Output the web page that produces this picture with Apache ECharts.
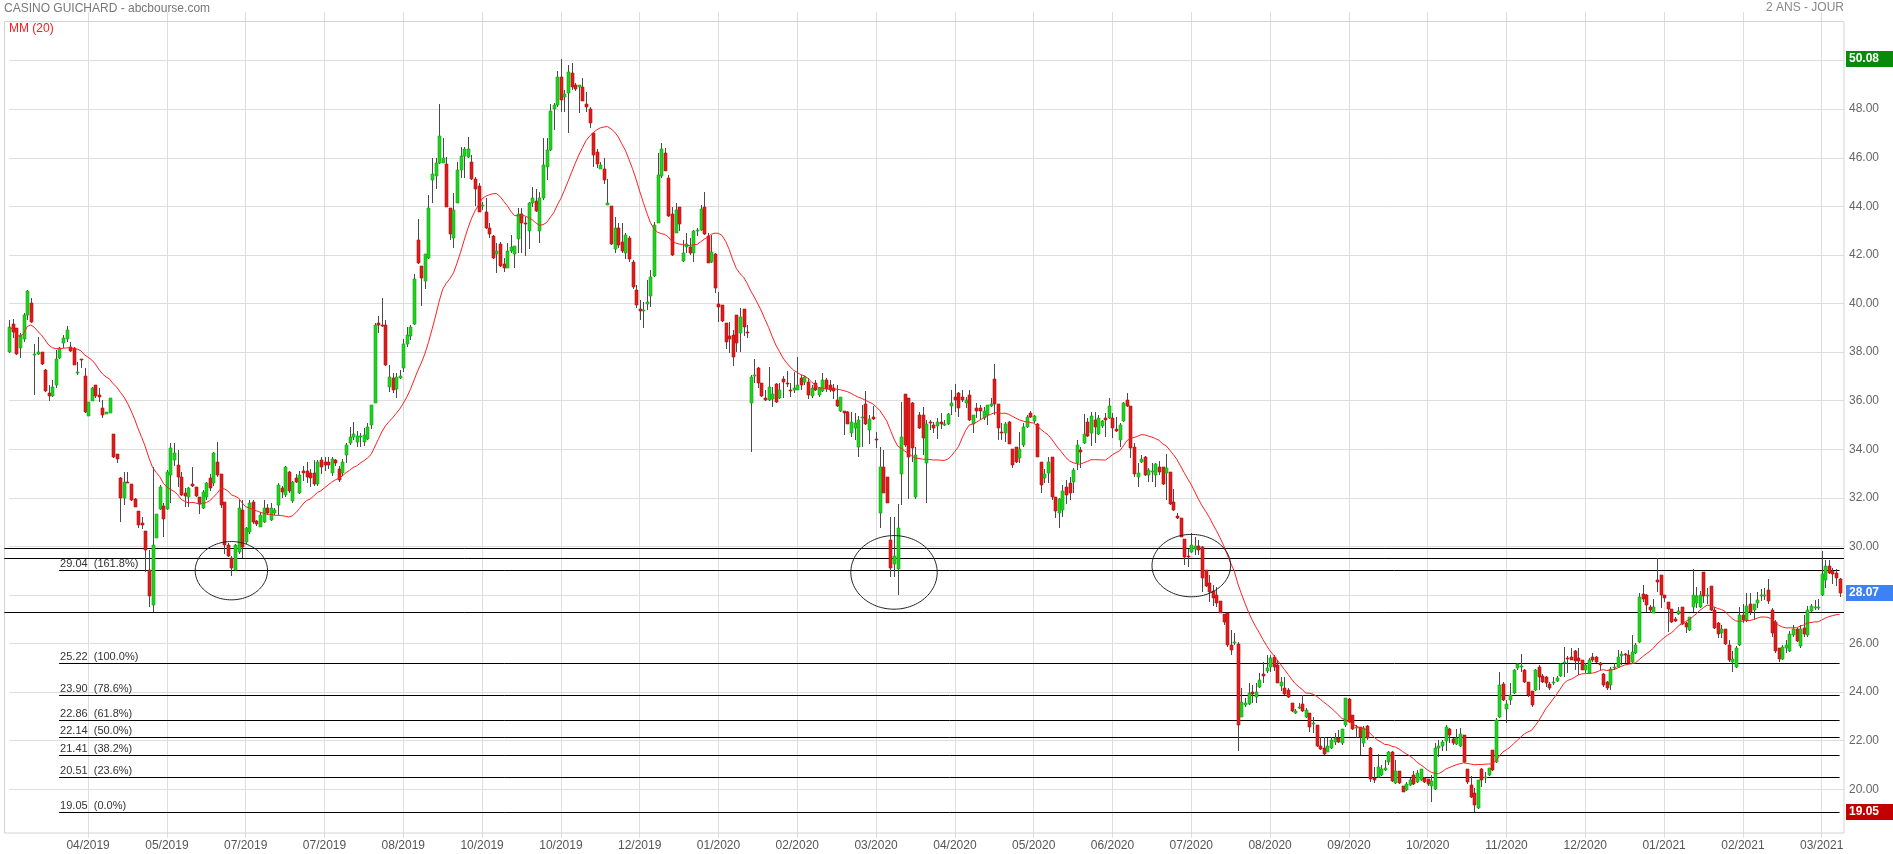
<!DOCTYPE html>
<html><head><meta charset="utf-8">
<script src="https://cdn.jsdelivr.net/npm/echarts@6/dist/echarts.min.js"></script>
<style>html,body{margin:0;padding:0;background:#fff}#c{width:1893px;height:854px}</style>
</head><body><div id="c"></div>
<script>
// ---- DATA ----
// each candle: [open, close, low, high]
const candles = [
/*0*/[37.99,39.02,37.95,39.32],[39.14,38.84,38.60,39.35],[38.98,37.91,37.88,39.00],[38.16,38.70,37.74,38.77],[38.53,39.53,38.43,39.60],[39.53,40.52,39.32,40.55],[40.01,39.25,39.21,40.21],[37.90,37.93,36.25,38.33],[37.91,37.99,37.88,38.64],[37.99,37.50,37.47,38.00],
/*10*/[37.26,36.39,36.34,37.30],[36.30,36.21,36.00,36.65],[36.21,36.55,36.16,36.85],[36.65,37.72,36.52,38.09],[37.74,38.16,37.70,38.22],[38.39,38.57,38.16,38.70],[38.55,38.91,38.43,39.08],[38.22,38.05,38.02,38.43],[38.16,37.47,37.47,38.22],[37.13,37.17,37.06,37.61],
/*20*/[37.70,37.66,37.33,37.72],[37.02,35.52,35.48,37.33],[35.38,35.93,35.38,35.96],[36.00,36.52,35.99,36.58],[36.65,36.21,36.10,36.65],[36.23,36.14,35.96,36.51],[35.71,35.41,35.27,36.03],[35.45,35.52,35.45,35.55],[35.51,36.10,35.48,36.12],[34.63,33.70,33.65,34.63],
/*30*/[33.81,33.61,33.45,33.81],[32.83,32.01,31.02,32.87],[32.01,32.65,31.71,33.08],[32.65,32.60,32.60,33.08],[32.56,31.91,31.87,32.56],[31.95,31.64,31.61,31.98],[31.46,30.88,30.75,31.46],[30.95,30.90,30.70,31.20],[30.64,29.85,28.96,30.64],[29.03,27.96,27.52,29.85],
/*40*/[27.59,30.06,27.31,33.28],[30.36,31.32,30.33,31.32],[31.53,32.43,31.50,32.53],[31.66,31.12,30.40,31.77],[31.53,33.08,31.50,33.15],[32.94,34.07,31.77,34.24],[33.56,33.86,33.30,34.24],[33.35,32.87,32.46,33.97],[32.84,32.12,32.09,33.05],[32.21,32.09,31.64,32.39],
/*50*/[32.05,32.39,31.64,32.46],[32.58,32.50,32.46,33.28],[32.43,32.09,32.05,32.43],[32.02,31.73,31.32,32.05],[31.57,32.23,31.54,32.32],[32.05,32.60,31.90,32.65],[32.80,32.42,32.30,33.00],[32.60,33.83,32.50,33.90],[33.49,32.94,32.87,34.31],[32.98,31.70,31.57,33.00],
/*60*/[31.84,30.06,29.70,31.84],[30.06,29.62,29.58,30.15],[29.54,29.10,28.78,29.60],[29.03,30.06,29.00,30.10],[29.78,31.59,29.70,31.91],[31.50,29.99,29.54,31.91],[30.20,30.74,30.10,30.80],[30.61,31.77,30.50,31.90],[31.84,31.02,30.91,31.91],[31.05,30.91,30.85,31.10],
/*70*/[30.81,31.29,30.80,31.40],[31.02,31.57,30.95,31.90],[31.59,31.36,31.30,31.75],[31.09,31.57,31.05,31.80],[31.36,31.50,31.30,31.60],[31.70,32.53,31.30,32.60],[32.39,32.25,32.00,32.50],[32.12,33.28,32.05,33.30],[33.08,32.28,32.20,33.10],[31.87,32.64,31.80,32.70],
/*80*/[32.80,32.67,32.60,33.00],[32.19,32.94,32.15,33.10],[33.10,33.01,32.70,33.30],[33.10,32.87,32.60,33.48],[33.01,32.80,32.45,33.20],[33.01,32.57,32.50,33.55],[32.57,33.49,32.50,33.55],[33.56,33.28,33.00,33.70],[33.49,33.35,33.10,33.70],[33.49,33.35,33.20,33.70],
/*90*/[33.01,33.60,32.90,33.70],[33.56,33.42,33.30,33.60],[33.19,32.73,32.65,33.30],[33.01,33.46,32.90,33.60],[33.76,34.18,33.45,34.24],[34.27,34.49,34.18,34.93],[34.49,34.61,34.38,35.13],[34.31,34.56,34.08,34.76],[34.49,34.56,34.10,34.68],[34.31,34.59,34.13,34.86],
/*100*/[34.41,34.93,34.38,35.10],[35.00,35.82,34.82,35.82],[35.92,39.11,35.90,39.20],[39.21,39.11,38.77,39.50],[39.12,39.06,39.04,40.21],[39.11,37.47,37.43,39.32],[36.58,36.99,36.37,37.47],[36.92,36.44,36.33,37.12],[36.47,36.96,36.10,37.12],[36.93,37.00,36.90,37.27],
/*110*/[37.33,38.33,37.16,38.52],[38.33,38.70,38.22,39.02],[38.68,39.02,38.50,39.13],[39.14,40.99,39.10,41.20],[42.61,41.65,41.62,43.48],[41.56,41.04,39.90,41.56],[40.93,42.03,40.58,42.03],[41.86,43.92,41.82,44.47],[45.08,45.33,44.15,45.99],[45.25,45.77,44.70,45.99],
/*120*/[45.77,46.90,45.74,48.21],[45.80,46.00,45.77,46.80],[45.74,43.96,43.96,46.02],[43.92,42.85,42.61,43.92],[42.68,43.85,42.27,44.56],[44.15,45.50,44.15,45.84],[45.50,46.07,45.15,46.46],[46.08,46.36,45.15,46.43],[46.02,46.36,45.98,46.84],[45.84,45.11,45.08,46.11],
/*130*/[45.11,44.70,44.03,45.19],[44.85,43.78,43.78,44.95],[44.00,44.05,43.85,44.19],[43.78,43.10,43.05,44.33],[43.10,42.85,42.68,43.30],[42.79,41.89,41.82,42.82],[42.03,42.16,41.24,42.48],[42.45,41.54,41.52,42.55],[41.63,41.45,41.28,41.86],[41.48,42.16,41.45,42.50],
/*140*/[42.16,42.34,42.07,42.82],[42.03,42.38,41.48,42.38],[42.64,43.68,42.06,43.92],[43.68,43.30,42.06,43.92],[43.33,43.27,41.96,43.57],[43.00,44.12,42.23,44.17],[44.12,44.33,43.99,44.81],[44.22,43.82,43.78,44.71],[43.00,44.33,42.48,44.60],[44.33,45.70,44.26,46.80],
/*150*/[45.60,46.32,45.08,46.80],[46.32,47.92,46.28,48.20],[47.99,48.17,47.14,48.24],[48.17,49.31,48.10,49.57],[49.31,48.38,47.90,50.08],[48.51,48.62,47.90,48.79],[48.65,49.54,47.00,49.82],[49.50,48.93,48.79,49.92],[48.99,48.82,48.76,49.06],[48.90,48.99,47.83,49.00],
/*160*/[48.90,48.35,48.35,49.27],[48.21,48.10,47.90,48.72],[47.99,47.42,47.21,48.10],[47.03,46.11,45.63,47.07],[46.25,45.74,45.56,46.35],[45.52,45.70,45.52,45.81],[45.52,45.08,44.92,45.98],[44.06,44.13,44.06,45.11],[44.00,42.44,42.41,44.00],[42.23,43.09,42.09,43.57],
/*170*/[43.09,42.41,42.27,43.30],[42.55,42.16,42.06,43.33],[42.09,42.82,41.82,42.89],[42.68,41.82,41.72,42.78],[41.72,40.67,40.58,41.79],[40.56,39.94,39.80,40.76],[39.76,39.70,39.32,40.14],[39.73,39.75,38.98,40.08],[40.00,40.05,39.73,40.97],[40.31,41.08,39.87,41.38],
/*180*/[41.13,43.23,41.10,43.37],[43.33,45.29,43.33,46.18],[45.25,46.35,45.15,46.59],[46.18,45.47,45.47,46.39],[45.15,43.60,43.57,45.29],[43.68,41.98,41.95,43.99],[42.89,43.85,42.89,44.12],[43.96,43.27,43.00,43.99],[41.76,42.09,41.72,42.61],[42.34,42.44,42.07,42.89],
/*190*/[42.34,42.09,42.00,42.68],[42.06,42.98,41.72,43.03],[42.98,43.03,42.78,43.10],[43.03,43.88,42.98,44.06],[43.96,42.85,42.82,44.58],[42.78,41.68,41.65,42.89],[41.72,42.13,41.65,42.82],[42.04,40.62,40.44,42.07],[39.98,39.84,39.25,40.49],[39.94,39.30,39.25,39.94],
/*200*/[39.21,38.43,38.11,39.21],[38.66,38.52,37.98,39.25],[38.70,37.81,37.43,38.91],[39.53,38.39,38.02,39.53],[38.80,39.46,38.02,39.80],[39.76,39.05,38.66,39.76],[38.83,38.77,38.57,39.12],[35.89,36.99,33.90,37.06],[37.00,37.06,36.71,37.70],[37.33,36.74,36.51,37.40],
/*210*/[36.71,36.21,36.16,36.71],[36.10,36.03,36.00,36.44],[36.03,36.55,36.00,37.37],[36.07,36.27,35.75,36.55],[36.67,35.93,35.89,36.71],[36.10,36.44,36.05,36.71],[36.88,36.75,36.10,37.02],[36.74,36.67,36.58,37.23],[36.44,36.40,36.16,36.71],[36.44,36.54,36.33,37.17],
/*220*/[36.44,36.64,36.44,37.78],[36.92,36.64,36.44,37.05],[36.75,36.96,36.64,37.03],[36.75,36.23,36.05,36.92],[36.21,36.51,36.10,36.64],[36.71,36.44,36.41,36.85],[36.23,36.51,36.16,36.58],[36.41,36.85,36.37,37.13],[36.85,36.47,36.37,36.92],[36.64,36.44,36.37,36.85],
/*230*/[36.51,36.41,36.05,36.67],[36.03,35.78,35.75,36.64],[35.59,36.14,35.55,36.14],[35.57,35.50,34.59,35.57],[35.55,35.03,35.03,35.59],[34.66,35.14,34.52,35.55],[34.86,35.06,34.38,35.50],[34.11,35.20,33.69,35.37],[35.27,35.34,34.11,35.82],[35.85,35.02,34.99,36.41],
/*240*/[34.79,35.23,34.22,35.41],[35.34,35.26,35.20,35.78],[34.43,34.41,34.04,34.72],[31.36,33.28,30.77,34.11],[33.25,32.21,32.18,33.97],[32.84,31.80,31.77,32.84],[30.26,29.10,28.75,31.20],[29.26,29.62,28.75,31.20],[29.05,30.74,27.99,31.74],[32.98,34.52,31.70,35.96],
/*250*/[36.26,34.17,34.11,36.26],[36.10,33.69,31.94,36.10],[35.89,34.04,33.49,35.96],[32.02,33.76,31.94,34.11],[35.41,34.86,34.83,35.55],[35.41,34.45,33.76,35.75],[33.42,35.04,31.80,35.20],[35.13,35.07,34.79,35.20],[34.99,34.86,34.65,35.13],[34.97,35.11,34.41,35.27],
/*260*/[35.13,35.02,34.82,35.48],[35.04,35.04,34.95,35.20],[35.02,35.45,34.99,35.48],[35.78,35.89,35.41,36.44],[36.16,36.03,35.55,36.69],[36.30,35.68,35.31,36.37],[36.16,36.03,35.96,36.44],[35.89,36.03,35.68,36.16],[36.23,35.20,35.17,36.44],[35.04,35.41,34.65,35.41],
/*270*/[35.68,35.57,35.27,35.89],[35.68,35.57,35.20,35.82],[35.27,35.57,35.20,35.72],[35.41,35.82,35.00,35.82],[35.78,35.86,35.75,36.10],[36.89,35.86,35.41,37.51],[35.86,34.89,34.38,35.86],[34.70,34.65,34.38,35.07],[34.68,35.04,34.31,35.13],[35.13,34.22,34.22,35.17],
/*280*/[34.00,33.35,33.24,34.00],[34.11,33.49,33.42,34.11],[33.62,33.99,33.45,34.72],[34.17,34.93,34.11,35.07],[34.90,35.31,34.86,35.41],[35.50,35.31,35.27,35.57],[35.17,35.37,35.07,35.41],[35.02,33.69,33.67,35.09],[33.49,32.53,32.18,33.49],[32.80,32.98,32.62,33.17],
/*290*/[33.01,33.49,32.62,33.69],[33.67,32.02,31.91,33.69],[32.05,31.47,31.15,32.05],[31.39,31.94,30.77,31.98],[31.50,32.29,31.22,32.53],[32.46,32.12,31.74,32.73],[32.60,32.21,31.91,32.87],[32.66,33.14,32.18,33.21],[33.45,34.17,33.14,34.38],[33.97,33.87,33.21,34.11],
/*300*/[34.24,34.63,34.22,35.45],[35.13,34.55,34.52,35.27],[34.65,35.37,34.14,35.55],[35.20,34.93,34.24,35.55],[34.63,35.27,34.58,35.41],[34.96,35.17,34.86,35.20],[35.27,35.20,34.49,35.48],[35.27,35.78,35.23,36.10],[35.27,34.89,34.45,35.51],[34.82,34.75,34.72,35.31],
/*310*/[34.38,34.99,34.11,35.09],[35.17,35.89,35.13,35.96],[36.03,35.78,35.75,36.33],[35.78,34.04,33.63,35.78],[34.11,32.98,32.87,34.24],[32.84,33.03,32.46,33.42],[33.49,33.59,33.42,33.76],[33.67,32.94,32.90,33.72],[32.94,33.14,32.66,33.21],[33.07,33.11,32.66,33.42],
/*320*/[32.94,33.39,32.43,33.45],[33.28,33.08,32.94,33.53],[33.28,32.56,32.53,33.28],[33.01,33.21,31.91,33.80],[33.05,31.74,31.70,33.08],[31.84,31.50,31.47,32.35],[31.25,31.15,31.13,31.36],[31.15,30.40,30.37,31.15],[30.29,29.55,29.23,30.29],[29.60,29.55,29.16,29.90],
/*330*/[29.78,30.06,29.71,30.54],[29.90,30.00,29.65,30.40],[30.02,29.85,29.65,30.26],[29.99,28.69,28.14,30.02],[29.03,28.38,28.34,29.03],[28.48,28.14,27.72,28.82],[28.18,27.86,27.55,28.41],[28.00,27.66,27.49,28.34],[27.77,27.27,27.24,27.77],[27.22,26.90,26.76,27.22],
/*340*/[27.24,25.94,25.87,27.24],[25.94,25.73,25.53,26.56],[26.05,26.05,25.94,26.42],[25.98,22.65,21.59,26.08],[22.99,23.61,22.96,24.16],[23.47,23.54,23.40,23.75],[23.50,23.95,23.47,24.39],[24.00,23.93,23.54,24.29],[23.81,24.02,23.57,24.39],[24.20,24.52,24.16,24.77],
/*350*/[24.75,24.68,24.36,25.25],[24.88,25.01,24.77,25.53],[25.02,25.39,24.84,25.53],[25.46,25.05,24.87,25.53],[25.12,24.36,24.36,25.32],[24.27,24.43,24.06,24.64],[24.16,23.92,23.88,24.64],[24.09,23.79,23.75,24.16],[23.54,23.24,23.20,23.57],[23.13,23.22,23.09,23.29],
/*360*/[23.40,23.40,23.29,23.54],[23.50,23.24,23.20,23.88],[22.99,23.27,22.92,23.33],[23.13,22.55,22.37,23.15],[22.67,22.74,22.30,22.99],[22.65,21.78,21.75,22.65],[21.78,21.65,21.62,22.17],[21.69,21.45,21.41,22.17],[21.55,21.78,21.52,22.13],[21.69,22.03,21.65,22.17],
/*370*/[21.96,22.13,21.82,22.30],[22.10,21.96,21.89,22.44],[21.89,22.47,21.82,22.47],[22.65,23.74,22.58,23.74],[23.70,22.78,22.72,23.74],[23.06,22.47,22.44,23.06],[22.51,22.58,22.10,22.65],[22.55,22.17,21.41,22.55],[21.90,22.51,21.76,22.60],[22.61,22.10,22.03,22.65],
/*380*/[21.69,20.41,20.31,21.73],[20.45,20.38,20.27,20.93],[20.49,20.90,20.45,21.44],[20.59,20.82,20.55,21.00],[20.79,20.86,20.77,21.21],[21.14,21.52,21.00,21.59],[21.55,20.36,20.31,21.59],[20.27,20.75,20.22,21.21],[20.75,20.27,20.22,20.75],[20.14,19.90,19.88,20.14],
/*390*/[19.97,20.22,19.94,20.31],[20.18,20.38,20.14,20.45],[20.59,20.22,20.18,20.77],[20.31,20.66,20.27,20.79],[20.38,20.82,20.36,20.82],[20.45,20.31,20.25,20.49],[20.41,20.22,20.14,20.41],[20.15,20.36,19.49,20.59],[20.00,21.69,19.97,21.92],[21.69,21.78,21.34,22.03],
/*400*/[21.78,21.96,21.59,22.03],[22.00,22.55,21.59,22.65],[22.47,22.24,21.89,22.51],[22.06,21.92,21.82,22.10],[21.86,22.13,21.82,22.47],[21.78,22.28,21.76,22.51],[22.24,21.14,21.10,22.24],[20.82,20.31,20.22,20.82],[20.18,19.67,19.63,20.55],[19.83,19.35,19.05,20.04],
/*410*/[19.22,20.38,19.18,20.38],[20.82,20.38,20.11,20.86],[20.45,20.52,20.25,20.73],[20.59,20.86,20.55,20.86],[21.62,20.79,20.77,21.62],[21.14,22.85,21.07,22.92],[22.96,24.29,22.92,24.84],[24.33,23.68,23.65,24.43],[23.31,23.51,22.74,23.68],[23.68,23.88,23.47,24.36],
/*420*/[23.95,24.91,23.91,24.94],[24.98,25.16,24.91,25.19],[25.02,25.08,24.84,25.56],[24.91,24.43,24.39,24.94],[24.40,23.88,23.81,24.43],[24.06,23.47,23.40,24.06],[24.09,24.91,24.05,24.94],[25.02,24.64,24.09,25.12],[24.68,24.43,24.36,24.75],[24.64,24.36,24.22,24.68],
/*430*/[24.34,24.16,24.10,24.40],[24.36,24.43,24.30,24.62],[24.47,24.60,24.40,24.68],[24.68,25.14,24.64,25.19],[25.19,25.26,24.64,25.87],[25.42,25.36,24.77,25.49],[25.43,25.32,25.32,25.80],[25.69,25.30,24.91,25.73],[25.42,25.30,24.71,25.80],[25.32,24.91,24.91,25.32],
/*440*/[24.90,25.10,24.80,25.20],[24.80,25.32,24.77,25.39],[25.46,25.32,25.26,25.60],[25.46,25.26,25.20,25.50],[25.21,25.12,24.90,25.25],[24.75,24.29,24.22,24.77],[24.43,24.16,24.10,24.45],[24.29,24.94,24.09,25.05],[25.05,25.05,24.91,25.19],[25.05,25.46,25.05,25.73],
/*450*/[25.49,25.57,25.12,25.71],[25.55,25.53,25.19,25.63],[25.53,25.21,25.19,25.73],[25.23,25.67,25.19,26.35],[25.63,25.94,25.57,26.01],[26.05,27.93,26.01,28.07],[28.04,27.82,27.72,28.41],[28.00,27.59,27.31,28.04],[27.49,27.38,27.24,27.59],[27.27,27.49,27.24,27.82],
/*460*/[28.62,28.55,28.14,29.51],[28.82,28.00,27.45,28.82],[28.00,27.86,27.72,28.00],[27.72,27.42,26.49,27.72],[27.42,26.90,26.83,27.42],[27.00,26.94,26.90,27.10],[27.21,27.34,27.18,27.52],[27.49,26.81,26.76,27.49],[26.83,26.67,26.42,26.90],[26.56,27.08,26.53,27.08],
/*470*/[27.52,28.00,27.31,29.06],[27.68,27.96,27.45,28.31],[27.49,28.00,27.45,28.18],[28.93,27.97,27.66,28.96],[27.94,28.00,27.62,28.30],[28.37,27.40,27.33,28.37],[27.40,26.66,26.61,27.51],[26.84,26.39,26.21,26.88],[26.43,26.61,26.21,26.77],[26.61,25.98,25.94,26.61],
/*480*/[25.94,25.31,25.26,26.16],[25.26,25.37,24.81,25.71],[25.04,25.82,24.99,25.89],[25.94,27.18,25.89,27.51],[27.18,26.95,26.84,27.62],[26.95,27.56,26.88,28.07],[27.62,27.29,27.17,28.07],[27.40,27.62,26.95,27.62],[27.69,27.78,27.47,28.14],[27.94,28.00,27.74,28.23],
/*490*/[27.94,28.00,27.78,28.30],[28.19,27.74,27.62,28.64],[27.40,26.43,26.27,27.47],[26.88,25.71,25.60,26.95],[25.82,25.37,25.26,25.82],[25.37,25.87,25.31,25.94],[25.82,25.94,25.60,26.16],[25.71,26.39,25.67,26.50],[26.34,26.61,26.27,26.77],[26.61,26.12,26.05,26.66],
/*500*/[25.89,26.61,25.82,26.77],[26.66,26.39,26.27,27.18],[26.34,27.40,26.27,27.56],[27.33,27.56,27.29,27.62],[27.47,27.51,27.40,27.78],[27.47,27.51,27.40,27.82],[28.01,28.86,27.96,29.81],[28.60,29.20,28.30,29.43],[29.20,28.91,28.86,29.43],[28.97,28.86,28.46,29.13],
/*510*/[28.91,28.68,28.37,29.09],[28.64,28.07,27.92,28.68]
];
// MM(20) values for the first 19 sessions (earlier history not shown)
const maHead = [39.02,38.94,38.70,38.64,38.77,39.05,39.12,39.02,38.84,38.70,38.50,38.29,38.18,38.14,38.14,38.16,38.17,38.18,38.14];
const tickLabels = ['04/2019','05/2019','07/2019','07/2019','08/2019','10/2019','10/2019','12/2019','01/2020','02/2020','03/2020','04/2020','05/2020','06/2020','07/2020','08/2020','09/2020','10/2020','11/2020','12/2020','01/2021','02/2021','03/2021'];
const fibLevels = [29.04, 25.22, 23.90, 22.86, 22.14, 21.41, 20.51, 19.05];
const fibLabels = ['29.04  (161.8%)','25.22  (100.0%)','23.90  (78.6%)','22.86  (61.8%)','22.14  (50.0%)','21.41  (38.2%)','20.51  (23.6%)','19.05  (0.0%)'];
const userLines = [29.95, 29.51, 27.29];
// circled zones: [candle index, price, half-width in candles, half-height in price]
const circles = [[62, 29.00, 10.1, 1.20], [247, 28.93, 12.06, 1.515], [330, 29.21, 10.97, 1.284]];
const priceTags = [50.08, 28.07, 19.05];   // highest, last, lowest
const titleText = 'CASINO GUICHARD - abcbourse.com';
const periodText = '2 ANS - JOUR';
const maText = 'MM (20)';

// ---- CHART ----
const FONT = '"Liberation Sans", Arial, Helvetica, sans-serif';
const candlesPerTick = 22;
const N = candles.length;
const closes = candles.map(d => d[1]);
const maData = closes.map((c, i) => {
  if (i < maHead.length) return [i, maHead[i]];
  let s = 0; for (let k = i - 19; k <= i; k++) s += closes[k];
  return [i, s / 20];
});
const candleData = candles.map((d, i) => [i, d[0], d[1], d[2], d[3]]);
const tagColors = ['#0a8a0a', '#3d82f5', '#c20000'];

const chart = echarts.init(document.getElementById('c'), null, {renderer: 'canvas'});
const GRID = {left: 9.3, right: 49, top: 12.02, bottom: 16.12};
const xMax = (1893 - GRID.left - GRID.right) / (78.8 / candlesPerTick);

chart.setOption({
  animation: false,
  backgroundColor: '#fff',
  textStyle: {fontFamily: FONT},
  grid: Object.assign({containLabel: false, outerBoundsMode: 'none'}, GRID),
  xAxis: {
    type: 'value', min: 0, max: xMax, interval: candlesPerTick,
    axisLine: {show: false}, axisTick: {show: false},
    axisLabel: {
      color: '#555', fontSize: 12, margin: 2, showMinLabel: false, showMaxLabel: false,
      formatter: v => { const k = Math.round(v / candlesPerTick) - 1; return tickLabels[k] || ''; }
    },
    splitLine: {show: true, showMinLine: false, showMaxLine: false, lineStyle: {color: '#dedede', width: 1}}
  },
  yAxis: {
    type: 'value', position: 'right', min: 18, max: 52, interval: 2, scale: true,
    axisLine: {show: false}, axisTick: {show: false},
    axisLabel: {
      color: '#666', fontSize: 12, margin: 5,
      formatter: v => (v <= 18 || v >= 51 || v === 28) ? '' : v.toFixed(2)
    },
    splitLine: {show: true, showMinLine: false, showMaxLine: false, lineStyle: {color: '#dedede', width: 1}}
  },
  graphic: [
    {type: 'rect', z: 1, silent: true, shape: {x: 4.5, y: 21.5, width: 1839.5, height: 811.5}, style: {fill: 'none', stroke: '#d4d4d4', lineWidth: 1}},
    {type: 'text', z: 10, x: 4, y: 9, style: {text: titleText, fill: '#777', fontSize: 12, fontFamily: FONT, verticalAlign: 'middle'}},
    {type: 'text', z: 10, x: 1844, y: 8, style: {text: periodText, fill: '#888', fontSize: 12, fontFamily: FONT, align: 'right', verticalAlign: 'middle'}},
    {type: 'text', z: 10, x: 9, y: 29, style: {text: maText, fill: '#ff1a1a', fontSize: 12, fontFamily: FONT, verticalAlign: 'middle'}}
  ],
  series: [
    { // user drawn horizontal lines
      type: 'custom', z: 2, clip: false, silent: true,
      data: userLines.map(v => [0, v]),
      encode: {x: 0, y: 1},
      renderItem: (params, api) => {
        const y = Math.round(api.coord([0, api.value(1)])[1]) + 0.5;
        const cs = params.coordSys;
        return {type: 'line', shape: {x1: cs.x - 5, y1: y, x2: cs.x + cs.width, y2: y}, style: {stroke: '#000', lineWidth: 1}};
      }
    },
    { // fibonacci retracement lines + labels
      type: 'custom', z: 2, clip: false, silent: true,
      data: fibLevels.map(v => [0, v]),
      encode: {x: 0, y: 1},
      renderItem: (params, api) => {
        const v = api.value(1);
        const y = Math.round(api.coord([0, v])[1]) + 0.5;
        const x1 = api.coord([13.9, v])[0], x2 = api.coord([N - 1, v])[0];
        return {type: 'group', children: [
          {type: 'line', shape: {x1: x1, y1: y, x2: x2, y2: y}, style: {stroke: '#000', lineWidth: 1}},
          {type: 'text', x: x1 + 1, y: y - 1, style: {text: fibLabels[params.dataIndex], fill: '#333', fontSize: 11, fontFamily: FONT, verticalAlign: 'bottom'}}
        ]};
      }
    },
    { // candles
      type: 'custom', z: 3, clip: false, silent: true,
      data: candleData,
      encode: {x: 0, y: [1, 2, 3, 4]},
      renderItem: (params, api) => {
        const i = api.value(0), o = api.value(1), c = api.value(2), l = api.value(3), h = api.value(4);
        const pO = api.coord([i, o]), pC = api.coord([i, c]), pL = api.coord([i, l]), pH = api.coord([i, h]);
        const xc = Math.round(pO[0]);
        const up = c >= o;
        const top = Math.round(Math.min(pO[1], pC[1])), bot = Math.round(Math.max(pO[1], pC[1]));
        return {type: 'group', children: [
          {type: 'line', shape: {x1: xc + 0.5, y1: Math.round(pH[1]), x2: xc + 0.5, y2: Math.round(pL[1])}, style: {stroke: '#4a4a4a', lineWidth: 1}},
          {type: 'rect', shape: {x: xc - 1, y: top, width: 3, height: Math.max(1, bot - top)},
           style: {fill: up ? '#1fd21f' : '#e01b1b', stroke: up ? '#13a813' : '#b51212', lineWidth: 0.6}}
        ]};
      }
    },
    { // moving average 20
      type: 'line', z: 4, data: maData, showSymbol: false, symbol: 'none', silent: true,
      lineStyle: {color: '#ff1f1f', width: 1}
    },
    { // circled zones
      type: 'custom', z: 5, clip: false, silent: true,
      data: circles.map(c => [c[0], c[1]]),
      encode: {x: 0, y: 1},
      renderItem: (params, api) => {
        const c = circles[params.dataIndex];
        const p = api.coord([c[0], c[1]]);
        const e = api.coord([c[0] + c[2], c[1] + c[3]]);
        const rx = e[0] - p[0], ry = p[1] - e[1];
        const pts = [];
        for (let k = 0; k < 120; k++) { const a = k / 120 * Math.PI * 2; pts.push([p[0] + rx * Math.cos(a), p[1] + ry * Math.sin(a)]); }
        return {type: 'polygon', shape: {points: pts}, style: {fill: 'none', stroke: '#222', lineWidth: 1}};
      }
    },
    { // price tags on the right axis
      type: 'custom', z: 6, clip: false, silent: true,
      data: priceTags.map(v => [0, v]),
      encode: {x: 0, y: 1},
      renderItem: (params, api) => {
        const v = api.value(1);
        const y = api.coord([0, v])[1];
        const cs = params.coordSys;
        const x = cs.x + cs.width + 2;
        return {type: 'group', children: [
          {type: 'rect', shape: {x: x, y: Math.round(y) - 8, width: 48, height: 16}, style: {fill: tagColors[params.dataIndex]}},
          {type: 'text', x: x + 3, y: Math.round(y), style: {text: v.toFixed(2), fill: '#fff', fontSize: 12, fontWeight: 'bold', fontFamily: FONT, verticalAlign: 'middle'}}
        ]};
      }
    }
  ]
});
</script>
</body></html>
